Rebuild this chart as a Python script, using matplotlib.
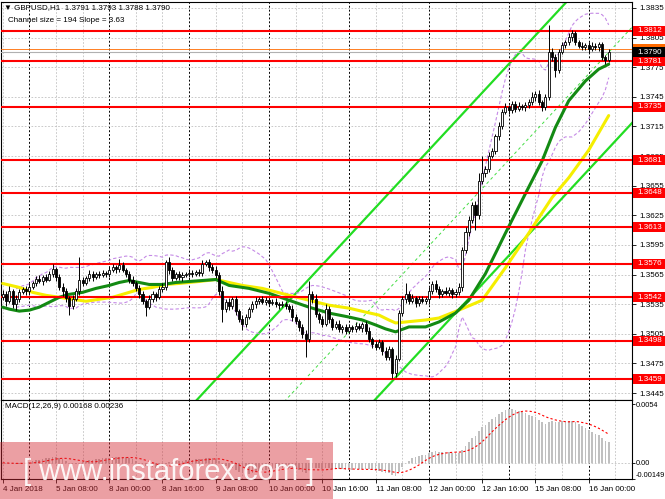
import numpy as np
import pandas as pd
import matplotlib
matplotlib.use("Agg")
import matplotlib.pyplot as plt
import matplotlib.transforms as mtrans
from matplotlib.patches import Rectangle

plt.rcParams['font.family'] = ['Liberation Sans', 'DejaVu Sans']

BASE = 1.3
PIP = 0.0001

# GBPUSD H1 closes, in pips above 1.3000 (first bar = 4 Jan 2018 16:00)
closes = [545, 538, 548, 535, 540, 547, 550, 548, 552, 556,
          561, 558, 563, 560, 566, 571, 563, 552, 548, 541,
          533, 540, 548, 560, 556, 562, 566, 563, 566, 565,
          567, 566, 570, 573, 571, 575, 570, 566, 560, 556,
          551, 545, 538, 532, 540, 545, 542, 550, 552, 578,
          570, 562, 566, 563, 565, 566, 567, 566, 568, 567,
          576, 578, 573, 570, 565, 548, 530, 537, 533, 540,
          528, 520, 515, 522, 530, 535, 538, 540, 537, 539,
          536, 537, 535, 534, 535, 533, 530, 522, 518, 512,
          505, 500, 545, 540, 525, 520, 515, 530, 520, 512,
          515, 510, 512, 508, 512, 510, 513, 511, 515, 508,
          500, 495, 492, 497, 488, 482, 490, 465, 480, 526,
          540, 545, 538, 541, 536, 540, 538, 540, 548, 555,
          550, 545, 548, 546, 549, 545, 547, 552, 590, 608,
          620, 635, 625, 660, 668, 672, 685, 690, 705, 715,
          730, 735, 732, 738, 733, 736, 735, 737, 740, 745,
          748, 740, 735, 745, 790, 785, 772, 790, 797, 800,
          806, 810, 800, 796, 795, 797, 793, 796, 795, 798,
          785, 782, 790]
first_open = 542

# wick lengths above / below the candle body, pips
up_wick = [4, 3, 5, 2, 4, 3, 2, 3, 4, 2,
           3, 4, 2, 3, 3, 5, 2, 3, 4, 3,
           2, 4, 3, 23, 3, 2, 4, 3, 2, 3,
           3, 2, 4, 3, 2, 6, 3, 2, 3, 4,
           2, 3, 3, 2, 4, 3, 2, 3, 4, 2,
           5, 3, 2, 3, 3, 2, 4, 3, 2, 3,
           4, 2, 3, 3, 4, 3, 5, 3, 4, 2,
           3, 2, 4, 3, 2, 3, 4, 2, 3, 3,
           2, 3, 4, 2, 3, 3, 2, 4, 3, 2,
           3, 4, 13, 3, 5, 2, 3, 5, 3, 2,
           3, 4, 2, 3, 3, 2, 4, 3, 2, 3,
           4, 2, 3, 3, 2, 4, 3, 2, 4, 3,
           3, 11, 3, 4, 2, 3, 3, 2, 4, 3,
           5, 3, 2, 4, 3, 2, 3, 4, 3, 5,
           4, 3, 4, 8, 17, 3, 4, 3, 2, 4,
           3, 4, 2, 3, 3, 4, 2, 3, 3, 5,
           3, 4, 2, 3, 28, 4, 3, 3, 4, 3,
           4, 3, 2, 3, 4, 2, 3, 4, 3, 2,
           3, 2, 3]
dn_wick = [3, 5, 2, 4, 6, 3, 2, 4, 3, 2,
           3, 2, 4, 3, 2, 3, 4, 3, 5, 4,
           9, 3, 2, 4, 3, 2, 3, 4, 2, 3,
           2, 3, 3, 2, 4, 3, 2, 3, 4, 3,
           3, 4, 3, 9, 2, 3, 4, 2, 3, 3,
           4, 3, 2, 3, 4, 2, 3, 3, 2, 3,
           3, 2, 4, 3, 3, 4, 13, 3, 4, 3,
           4, 3, 6, 3, 2, 3, 4, 3, 2, 3,
           3, 2, 3, 4, 2, 3, 3, 4, 3, 4,
           4, 18, 3, 4, 3, 4, 3, 2, 4, 3,
           2, 3, 4, 3, 2, 3, 3, 2, 4, 3,
           3, 4, 3, 2, 4, 4, 3, 5, 4, 3,
           3, 4, 3, 2, 4, 3, 2, 3, 5, 3,
           3, 4, 3, 2, 3, 4, 3, 3, 4, 3,
           4, 3, 15, 4, 3, 4, 3, 2, 3, 4,
           3, 2, 4, 3, 3, 2, 3, 4, 3, 3,
           4, 3, 4, 3, 3, 4, 7, 3, 2, 3,
           3, 4, 3, 2, 3, 3, 4, 2, 3, 4,
           3, 4, 2]

# moving averages: (bar, pips above 1.3000)
yellow_bar = [0, 5, 9, 13, 17, 21, 25, 29, 33, 37, 41, 45, 49, 53, 59, 64,
              72, 78, 86, 92, 98, 104, 109, 113, 116, 118, 121, 127, 131,
              137, 144, 151, 158, 165, 170, 176, 182]
yellow_val = [556, 552, 547, 544, 542, 540, 538, 540, 542, 546, 550, 552,
              555, 556, 558, 560, 554, 551, 544, 539, 534, 531, 527, 524,
              519, 516, 517, 519, 521, 529, 539, 572, 607, 643, 663, 691, 726]
green_bar = [0, 2, 5, 8, 11, 14, 17, 20, 24, 28, 32, 35, 38, 41, 44, 48, 52,
             56, 60, 64, 68, 74, 80, 86, 92, 98, 104, 108, 112, 115, 118,
             122, 127, 131, 136, 140, 145, 151, 157, 162, 166, 170, 175,
             179, 182]
green_val = [532, 530, 528, 529, 532, 537, 542, 545, 547, 551, 554, 557,
             559, 557, 555, 555, 557, 558, 559, 560, 554, 551, 546, 539,
             532, 526, 522, 519, 514, 510, 507, 512, 512, 517, 526, 539,
             566, 607, 647, 680, 714, 741, 761, 773, 778]

# regression channel
chan_anchor_bar = 117.8
chan_anchor_low = 1.3460
chan_slope = 3.63      # pips per bar
chan_size = 194        # pips

levels = [1.3812, 1.3781, 1.3735, 1.3681, 1.3648, 1.3613, 1.3576, 1.3542,
          1.3498, 1.3459]
price_ticks = [1.3835, 1.3805, 1.3775, 1.3745, 1.3715, 1.3685, 1.3655,
               1.3625, 1.3595, 1.3565, 1.3535, 1.3505, 1.3475, 1.3445]
bid = 1.3790
ask = 1.3793

time_labels = ["4 Jan 2018", "5 Jan 08:00", "8 Jan 00:00", "8 Jan 16:00",
               "9 Jan 08:00", "10 Jan 00:00", "10 Jan 16:00", "11 Jan 08:00",
               "12 Jan 00:00", "12 Jan 16:00", "15 Jan 08:00", "16 Jan 00:00"]
label_bars = [0, 16, 32, 48, 64, 80, 96, 112, 128, 144, 160, 176]
day_bars = [8, 32, 56, 80, 104, 128, 152, 176]

FS = 5.8
GRID = '#c0c0c0'

bars = np.arange(len(closes))
c = BASE + np.array(closes) * PIP
o = np.r_[BASE + first_open * PIP, c[:-1]]
hi = np.maximum(o, c) + np.array(up_wick) * PIP
lo = np.minimum(o, c) - np.array(dn_wick) * PIP
bull = c >= o

s = pd.Series(c)
mid = s.rolling(20, min_periods=5).mean()
sd = s.rolling(20, min_periods=5).std(ddof=0)
bb_up = mid + 2 * sd
bb_dn = mid - 2 * sd

macd = s.ewm(span=12, adjust=False).mean() - s.ewm(span=26, adjust=False).mean()
signal = macd.rolling(9, min_periods=1).mean()

fig = plt.figure(figsize=(6.65, 4.99), dpi=100)
ax = fig.add_axes([1 / 665, 99 / 499, 631 / 665, 398 / 499])
ax2 = fig.add_axes([1 / 665, 20 / 499, 631 / 665, 79 / 499])

x0, x1 = -0.5, 189.0
for a in (ax, ax2):
    a.set_xlim(x0, x1)
    for b in range(0, 190, 8):
        if b in day_bars:
            a.axvline(b, color='black', lw=0.7, ls=(0, (2, 2)), zorder=1)
        else:
            a.axvline(b, color=GRID, lw=0.6, ls=(0, (2, 2)), zorder=1)
    for sp in a.spines.values():
        sp.set_color('black')
        sp.set_linewidth(0.8)

ax.set_ylim(1.3438, 1.3841)
for p in price_ticks:
    ax.axhline(p, color=GRID, lw=0.6, ls=(0, (2, 2)), zorder=1)

# regression channel
ch_x = np.array([40.0, x1])
ch_low = chan_anchor_low + (ch_x - chan_anchor_bar) * chan_slope * PIP
ax.plot(ch_x, ch_low, color='#22dd22', lw=1.6, zorder=2)
ax.plot(ch_x, ch_low + chan_size * PIP, color='#22dd22', lw=1.6, zorder=2)
ax.plot(ch_x, ch_low + chan_size / 2 * PIP, color='#44dd44', lw=0.7,
        ls=(0, (3, 3)), zorder=2)

# bollinger bands
ax.plot(bars, bb_up, color='#c58ae6', lw=0.8, ls=(0, (3, 2)), zorder=2)
ax.plot(bars, bb_dn, color='#c58ae6', lw=0.8, ls=(0, (3, 2)), zorder=2)

# moving averages
ax.plot(yellow_bar, BASE + np.array(yellow_val) * PIP, color='#f5ee00',
        lw=2.2, zorder=3, solid_capstyle='round')
ax.plot(green_bar, BASE + np.array(green_val) * PIP, color='#138a13',
        lw=2.2, zorder=3, solid_capstyle='round')

# support / resistance levels
for lv in levels:
    ax.axhline(lv, color='#ff0000', lw=1.5, zorder=3)
ax.axhline(ask, color='#ff6a00', lw=0.6, zorder=3)
ax.axhline(bid, color='#b0b0b0', lw=0.8, zorder=3)

# candles
ax.vlines(bars, lo, hi, color='black', lw=0.7, zorder=4)
ax.bar(bars[bull], (c - o)[bull], bottom=o[bull], width=0.62, color='white',
       edgecolor='black', lw=0.6, zorder=5)
ax.bar(bars[~bull], (c - o)[~bull], bottom=o[~bull], width=0.62,
       color='black', edgecolor='black', lw=0.6, zorder=5)

ax.set_xticks([])
ax.yaxis.tick_right()
ax.set_yticks(price_ticks)
ax.set_yticklabels([f"{p:.4f}" for p in price_ticks])
ax.tick_params(axis='y', length=3, width=0.6, pad=2, labelsize=FS)

# price boxes on the right scale
trans = mtrans.blended_transform_factory(ax.transAxes, ax.transData)
box_h = 0.00102
def price_box(val, color):
    ax.add_patch(Rectangle((1.0016, val - box_h / 2), 0.053, box_h,
                           transform=trans, clip_on=False, fc=color,
                           ec='none', zorder=6))
    ax.text(1.009, val, f"{val:.4f}", transform=trans, color='white',
            fontsize=FS, va='center', ha='left', clip_on=False, zorder=7)

for lv in levels:
    price_box(lv, '#ff0000')
ax.add_patch(Rectangle((1.0016, ask - box_h / 2), 0.053, box_h,
                       transform=trans, clip_on=False, fc='#ff6a00',
                       ec='none', zorder=6))
price_box(bid, 'black')

# MACD window
ax2.bar(bars, macd, width=0.5, color='#c0c0c0', zorder=2)
ax2.plot(bars, signal, color='red', lw=0.8, ls=(0, (2, 2)), zorder=3)
ax2.axhline(0, color=GRID, lw=0.6, ls=(0, (2, 2)), zorder=1)
ax2.set_ylim(-0.00149, 0.00577)
ax2.yaxis.tick_right()
ax2.set_yticks([0.0054, 0.0, -0.00149])
ax2.set_yticklabels(['0.0054', '0.00', '-0.00149'])
ax2.tick_params(axis='y', length=2, width=0.6, pad=1, labelsize=5.3)
for lab in ax2.get_yticklabels()[2:]:
    lab.set_verticalalignment('bottom')
ax2.set_xticks(label_bars)
ax2.set_xticklabels(time_labels, ha='left')
ax2.tick_params(axis='x', length=3, width=0.6, pad=2, labelsize=FS)

fig.text(4 / 665, 1 - 8 / 499,
         "\u25bc GBPUSD,H1  1.3791 1.3793 1.3788 1.3790",
         fontsize=FS, va='center')
fig.text(8 / 665, 1 - 20 / 499, "Channel size = 194 Slope = 3.63",
         fontsize=FS, va='center')
fig.text(5 / 665, 1 - 407 / 499, "MACD(12,26,9) 0.00168 0.00236",
         fontsize=FS, va='center')

# watermark
fig.patches.append(Rectangle((0, 0), 333 / 665, 57 / 499,
                             transform=fig.transFigure, fc='#d42a34',
                             alpha=0.45, ec='none', zorder=10))
fig.text(169 / 665, 1 - 472 / 499, "[ www.instaforex.com ]", color='white',
         fontsize=21, ha='center', va='center', alpha=0.9, zorder=11)

fig.savefig("out.png", dpi=100)
